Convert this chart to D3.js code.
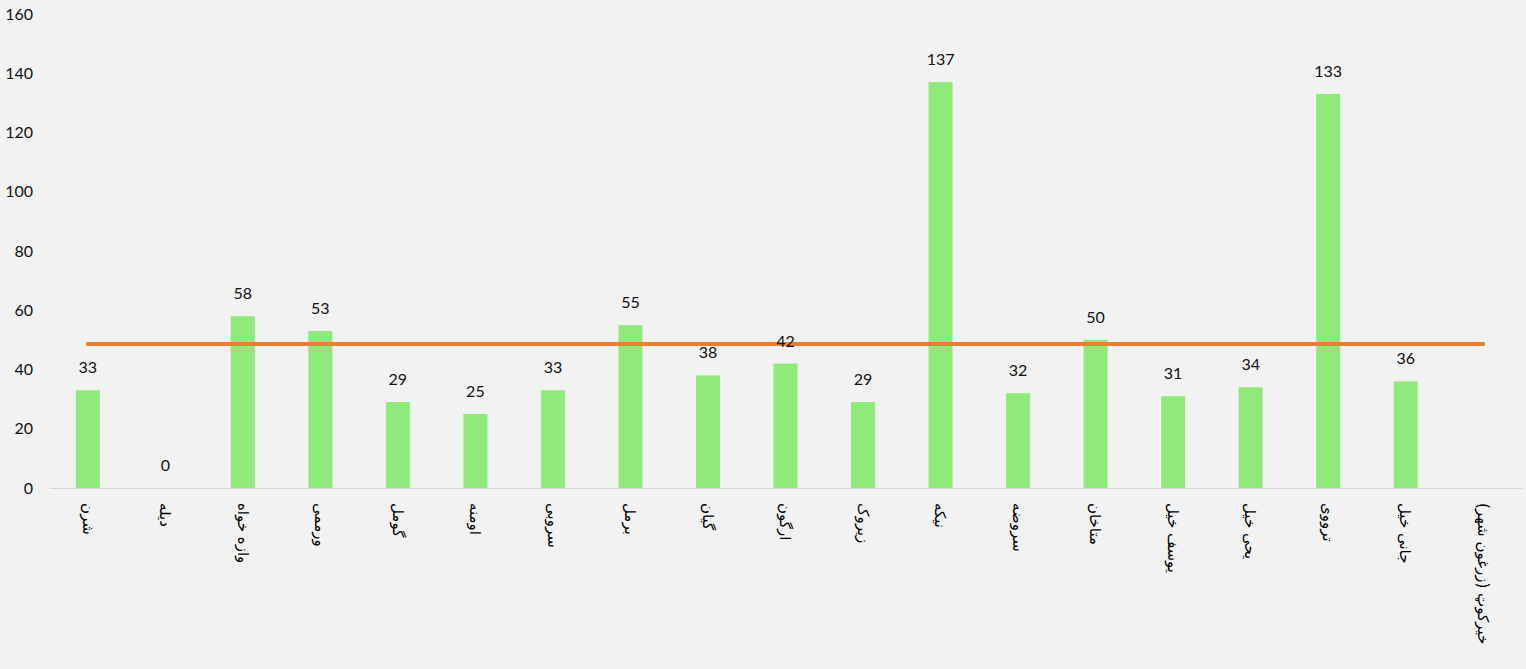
<!DOCTYPE html>
<html>
<head>
<meta charset="utf-8">
<script src="https://cdn.jsdelivr.net/npm/d3@7"></script>
<style>
  body { margin: 0; background: #f2f2f2; }
  svg { display: block; }
</style>
</head>
<body>
<div id="chart"></div>
<script>
const categories = [
    "شرن", "دیله", "وازه خواه", "ورممی", "گومل", "اومنه", "سروبی", "برمل",
    "گیان", "ارگون", "زیروک", "نیکه", "سروضه", "متاخان", "یوسف خیل",
    "یحی خیل", "ترووی", "جانی خیل", "خیرکوټ (زرغون شهر)"
];
const values = [33, 0, 58, 53, 29, 25, 33, 55, 38, 42, 29, 137, 32, 50, 31, 34, 133, 36, null];
const averageValues = [48.6, 48.6, 48.6, 48.6, 48.6, 48.6, 48.6, 48.6, 48.6, 48.6,
    48.6, 48.6, 48.6, 48.6, 48.6, 48.6, 48.6, 48.6, 48.6];
const yTicks = [0, 20, 40, 60, 80, 100, 120, 140, 160];

const width = 1526, height = 669;
const margin = { top: 14, right: 4, bottom: 181, left: 49 };

const svg = d3.select("#chart")
    .append("svg")
    .attr("width", width)
    .attr("height", height);

svg.append("rect")
    .attr("width", width)
    .attr("height", height)
    .attr("fill", "#f2f2f2");

const x = d3.scaleBand()
    .domain(categories)
    .range([margin.left, width - margin.right])
    .paddingInner(0.69)
    .paddingOuter(0.345);

const y = d3.scaleLinear()
    .domain([0, 160])
    .range([height - margin.bottom, margin.top]);

// y axis labels (no axis line, no grid)
const yAxis = svg.append("g")
    .attr("transform", `translate(${margin.left},0)`)
    .call(d3.axisLeft(y).tickValues(yTicks).tickSize(0).tickPadding(16));
yAxis.select(".domain").remove();
yAxis.selectAll("text")
    .style("font-family", "Lato, sans-serif")
    .style("font-size", "16px")
    .attr("fill", "#111");

// bars
const data = categories.map((c, i) => ({ cat: c, value: values[i], avg: averageValues[i] }));

svg.selectAll("rect.bar")
    .data(data.filter(d => d.value !== null))
    .enter()
    .append("rect")
    .attr("class", "bar")
    .attr("x", d => x(d.cat))
    .attr("y", d => y(d.value))
    .attr("width", x.bandwidth())
    .attr("height", d => y(0) - y(d.value))
    .attr("fill", "#90ea7b");

// category axis
const xAxis = svg.append("g")
    .attr("transform", `translate(0,${y(0)})`)
    .call(d3.axisBottom(x).tickSize(0).tickPadding(0));
xAxis.select(".domain")
    .attr("stroke", "#d4d4d4")
    .attr("stroke-width", 1);
xAxis.selectAll("text")
    .attr("transform", "translate(0,15) rotate(90)")
    .attr("dy", "0.35em")
    .attr("text-anchor", "start")
    .style("font-family", "'DejaVu Sans', sans-serif")
    .style("font-size", "15px")
    .attr("fill", "#000");

// average line
const line = d3.line()
    .x(d => x(d.cat) + x.bandwidth() / 2)
    .y(d => y(d.avg));

svg.append("path")
    .datum(data)
    .attr("d", line)
    .attr("fill", "none")
    .attr("stroke", "#ed7d31")
    .attr("stroke-width", 4)
    .attr("stroke-linecap", "round");

// data labels
svg.selectAll("text.value")
    .data(data.filter(d => d.value !== null))
    .enter()
    .append("text")
    .attr("class", "value")
    .attr("x", d => x(d.cat) + x.bandwidth() / 2)
    .attr("y", d => y(d.value) - 17)
    .attr("text-anchor", "middle")
    .style("font-family", "Lato, sans-serif")
    .style("font-size", "16px")
    .attr("fill", "#111")
    .text(d => d.value);
</script>
</body>
</html>
